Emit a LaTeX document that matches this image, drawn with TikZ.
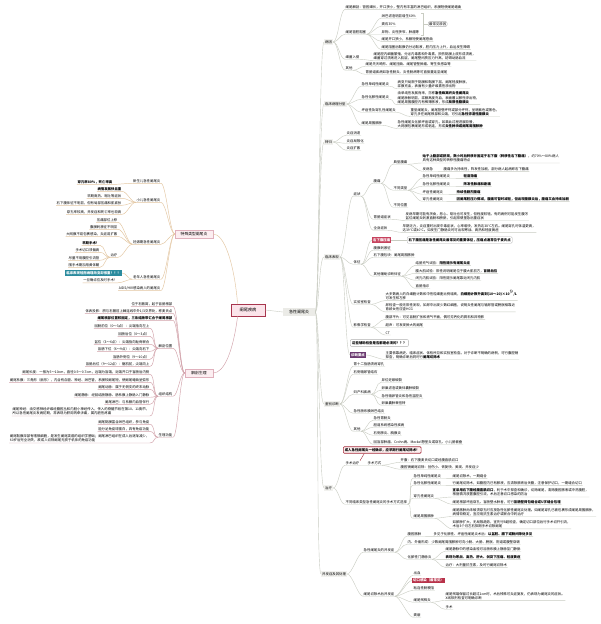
\documentclass[tikz,border=0pt]{standalone}
\usepackage{fontspec}
\setmainfont{Noto Sans CJK SC}
\definecolor{lineR}{HTML}{C9CCC2}
\definecolor{lineS}{HTML}{E3C6A0}
\definecolor{lineA}{HTML}{D2A2AA}
\definecolor{rootfill}{HTML}{FBE4EA}
\definecolor{rootdraw}{HTML}{A8364E}
\definecolor{acfill}{HTML}{EBEBE7}
\definecolor{subfill}{HTML}{FCEEF1}
\definecolor{subdraw}{HTML}{E0B0BC}
\definecolor{lonefill}{HTML}{F1F1EE}
\definecolor{purplebox}{HTML}{6B3A70}
\definecolor{pinkbox}{HTML}{C7435E}
\definecolor{redbox}{HTML}{B8324A}
\definecolor{tealbox}{HTML}{2B8B9E}
\definecolor{calloutdraw}{HTML}{B0B0B0}
\definecolor{redcallfill}{HTML}{FDF0F0}
\definecolor{redcalldraw}{HTML}{A52A3A}
\newcommand\Rk[2]{\draw[rl] (#1) .. controls +(5,0) and +(-5,0) .. (#2.south west) -- (#2.south east);}
\newcommand\Rb[2]{\draw[rl] (#1) .. controls +(5,0) and +(-5,0) .. (#2.west);}
\newcommand\Lk[3]{\draw[#1] (#2) .. controls +(-5,0) and +(5,0) .. (#3.south east) -- (#3.south west);}
\newcommand\Lb[3]{\draw[#1] (#2) .. controls +(-5,0) and +(5,0) .. (#3.east);}
\begin{document}
\begin{tikzpicture}[x=1pt,y=-1pt,
  font=\fontsize{3.4}{4.3}\selectfont,
  every node/.style={inner sep=0.5pt},
  R/.style={anchor=west,align=left},
  L/.style={anchor=east,align=left},
  rl/.style={draw=lineR,line width=0.4pt},
  sl/.style={draw=lineS,line width=0.45pt},
  al/.style={draw=lineA,line width=0.45pt},
  lone/.style={anchor=west,fill=lonefill,inner sep=1pt},
  colbox/.style={text=white,inner sep=1pt,font=\fontsize{3.4}{4.3}\selectfont\bfseries},
  callout/.style={anchor=west,draw=calloutdraw,fill=white,line width=0.4pt,inner sep=1.5pt,rounded corners=1pt,font=\fontsize{3.4}{4.3}\selectfont\bfseries},
]
\useasboundingbox (0,0) rectangle (600,624);
\fill[white] (0,0) rectangle (600,624);

% ---------- central ----------
\node[draw=rootdraw,fill=rootfill,line width=0.8pt,minimum width=34pt,minimum height=12pt,font=\fontsize{4.2}{5}\selectfont] (root) at (248,310) {阑尾疾病};
\node[fill=acfill,minimum width=32pt,minimum height=8pt,font=\fontsize{4}{5}\selectfont] (acute) at (299,312) {急性阑尾炎};
\node[fill=subfill,draw=subdraw,line width=0.4pt,minimum width=38pt,minimum height=8pt,font=\fontsize{3.8}{4.5}\selectfont] (spec) at (194,234) {特殊类型阑尾炎};
\node[fill=subfill,draw=subdraw,line width=0.4pt,minimum width=28pt,minimum height=8pt,font=\fontsize{3.8}{4.5}\selectfont] (anat) at (199,373) {解剖生理};
\draw[rl] (root.east) -- (acute.west);
\draw[sl] ([xshift=7pt]root.north west) .. controls (234,262) and (224,234) .. (spec.east);
\draw[al] ([xshift=7pt]root.south west) .. controls (233,352) and (224,373) .. (anat.east);

% ---------- right level 1 ----------
\node[lone] (gy) at (324,42) {病因};
\node[lone] (fx) at (324,104) {临床病理分型};
\node[lone] (zg) at (324,142) {转归};
\node[lone] (lc) at (324,257) {临床表现};
\node[lone] (jb) at (324,404) {鉴别诊断};
\node[lone] (zl) at (324,488) {治疗};
\node[lone] (bf) at (321,574) {并发症及其处理};
\foreach \n in {gy,fx,zg,lc,jb,zl,bf}{\draw[rl] (acute.east) .. controls +(4,0) and +(-5,0) .. (\n.west);}

% ---------- 病因 ----------
\node[R] (gy1) at (345,7) {阑尾解剖：管腔细长，开口狭小，壁内有丰富的淋巴组织，系膜短使阑尾蜷曲};
\node[R] (gy2) at (345,32) {阑尾管腔阻塞};
\node[R] (gy3) at (345,57) {细菌入侵};
\node[R] (gy4) at (345,68) {其他};
\foreach \n in {gy1,gy2,gy3,gy4}{\Rk{gy.east}{\n}}
\node[R] (gy21) at (381,16) {淋巴滤泡明显增生60\%};
\node[R] (gy22) at (381,24) {粪石35\%};
\node[R] (gy23) at (381,32) {异物、炎性狭窄、肿瘤等};
\node[R] (gy24) at (381,39) {阑尾开口狭小，系膜短使阑尾卷曲};
\node[R] (gy25) at (381,47) {阑尾阻塞后黏膜仍分泌黏液，腔内压力上升，血运发生障碍};
\foreach \n in {gy21,gy22,gy23,gy24,gy25}{\Rk{gy2.south east}{\n}}
\node[anchor=west,draw=calloutdraw,rounded corners=2pt,inner sep=1pt] (gylab) at (428,24) {最常见原因};
\draw[rl] (421,13) -- (423,13) -- (423,35) -- (421,35);
\draw[rl] (423,24) -- (gylab.west);
\node[R] (gy31) at (373,56) {阑尾腔内细菌繁殖，分泌内毒素和外毒素，损伤黏膜上皮形成溃疡，\\细菌穿过溃疡进入肌层，阑尾壁间质压力升高，妨碍动脉血流};
\Rk{gy3.south east}{gy31}
\node[R] (gy41) at (365,64) {阑尾先天畸形、阑尾扭曲、阑尾管壁肿瘤、寄生虫感染等};
\node[R] (gy42) at (365,72) {胃肠道疾病如急性肠炎、炎性肠病等可直接蔓延至阑尾};
\foreach \n in {gy41,gy42}{\Rk{gy4.south east}{\n}}

% ---------- 临床病理分型 ----------
\node[R] (fx1) at (361,84) {急性单纯性阑尾炎};
\node[R] (fx2) at (361,97) {急性化脓性阑尾炎};
\node[R] (fx3) at (361,110) {坏疽性及穿孔性阑尾炎};
\node[R] (fx4) at (361,123) {阑尾周围脓肿};
\foreach \n in {fx1,fx2,fx3,fx4}{\Rk{fx.east}{\n}}
\node[R] (fx1c) at (397,84) {病变只局限于黏膜和黏膜下层，阑尾轻度肿胀，\\浆膜充血，表面有少量纤维素性渗出物};
\node[R] (fx2c) at (397,98) {由单纯性发展而来，亦称\textbf{急性蜂窝织炎性阑尾炎}\\阑尾肿胀明显，浆膜高度充血，表面覆以脓性渗出物，\\阑尾周围腹腔内有稀薄脓液，形成\textbf{局限性腹膜炎}};
\node[R] (fx3c) at (410,112) {重型阑尾炎，阑尾管壁坏死或部分坏死，呈暗紫色或黑色，\\穿孔多在阑尾根部和尖端，可引起\textbf{急性弥漫性腹膜炎}};
\node[R] (fx4c) at (397,124) {急性阑尾炎化脓坏疽或穿孔，如果此过程进展较慢，\\大网膜包裹阑尾形成粘连，形成\textbf{炎性肿块或阑尾周围脓肿}};
\Rk{fx1.south east}{fx1c}
\Rk{fx2.south east}{fx2c}
\Rk{fx3.south east}{fx3c}
\Rk{fx4.south east}{fx4c}

% ---------- 转归 ----------
\node[R] (zg1) at (346,133) {炎症消退};
\node[R] (zg2) at (346,141) {炎症局限化};
\node[R] (zg3) at (346,148) {炎症扩散};
\foreach \n in {zg1,zg2,zg3}{\Rk{zg.east}{\n}}

% ---------- 临床表现 ----------
\node[R] (lc1) at (353,194) {症状};
\node[R] (lc2) at (353,262) {体征};
\node[R] (lc3) at (353,302) {实验室检查};
\node[R] (lc4) at (353,325) {影像学检查};
\node[anchor=west,fill=purplebox,colbox] (lc5) at (350,355) {诊断要点};
\foreach \n in {lc1,lc2,lc3,lc4}{\Rk{lc.east}{\n}}
\Rb{lc.east}{lc5}

\node[R] (zz1) at (373,181) {腹痛};
\node[R] (zz2) at (373,217) {胃肠道症状};
\node[R] (zz3) at (373,228) {全身症状};
\foreach \n in {zz1,zz2,zz3}{\Rk{lc1.south east}{\n}}
\node[R] (ft1) at (393,162) {典型腹痛};
\node[R] (ft2) at (393,188) {不同类型};
\node[R] (ft3) at (393,205) {不同位置};
\foreach \n in {ft1,ft2,ft3}{\Rk{zz1.south east}{\n}}
\node[R] (ft11) at (422,158.5) {\textbf{始于上腹部或脐周，数小时后转移并固定于右下腹（转移性右下腹痛）}，约70\%～80\%病人\\具有这种典型的转移性腹痛特点};
\node[R] (ft12) at (422,169) {发病急};
\node[R] (ft121) at (443,169) {腹痛多为持续性，阵发性加剧，部分病人起病即右下腹痛};
\Rk{ft1.south east}{ft11}
\Rk{ft1.south east}{ft12}
\Rk{ft12.south east}{ft121}
\node[R] (ft21) at (422,176) {急性单纯性阑尾炎};
\node[R] (ft22) at (422,184) {急性化脓性阑尾炎};
\node[R] (ft23) at (422,192) {坏疽性阑尾炎};
\node[R] (ft24) at (422,199) {穿孔性阑尾炎};
\foreach \n in {ft21,ft22,ft23,ft24}{\Rk{ft2.south east}{\n}}
\node[R,font=\fontsize{3.4}{4.3}\selectfont\bfseries] (ft21c) at (463,176) {轻度隐痛};
\node[R,font=\fontsize{3.4}{4.3}\selectfont\bfseries] (ft22c) at (463,184) {阵发性胀痛和剧痛};
\node[R,font=\fontsize{3.4}{4.3}\selectfont\bfseries] (ft23c) at (456,192) {持续性剧烈腹痛};
\node[R,font=\fontsize{3.4}{4.3}\selectfont\bfseries] (ft24c) at (456,199) {因阑尾腔压力骤减，腹痛可暂时减轻，但出现腹膜炎后，腹痛又会持续加剧};
\Rk{ft21.south east}{ft21c}
\Rk{ft22.south east}{ft22c}
\Rk{ft23.south east}{ft23c}
\Rk{ft24.south east}{ft24c}
\node[R] (zz2c) at (405,216) {发病早期可能有厌食，恶心、呕吐也可发生，但程度较轻。有的病例可能发生腹泻\\盆位阑尾炎刺激直肠和膀胱，引起排便里急后重症状};
\node[R] (zz3c) at (402,228) {早期乏力，炎症重时出现中毒症状，心率增快，发热达38℃左右。阑尾穿孔时体温更高，\\达39℃或40℃。如发生门静脉炎时可出现寒战、高热和轻度黄疸};
\Rk{zz2.south east}{zz2c}
\Rk{zz3.south east}{zz3c}

\node[anchor=west,fill=pinkbox,colbox] (tz1) at (372,240) {右下腹压痛};
\node[callout] (tzc) at (407,240) {右下腹压痛是急性阑尾炎最常见的重要体征，压痛点通常位于麦氏点};
\draw[rl] (tz1.east) -- (tzc.west);
\node[R] (tz2) at (373,248) {腹膜刺激征};
\node[R] (tz3) at (373,255) {右下腹包块：阑尾周围脓肿};
\node[R] (tz4) at (373,274) {其他辅助诊断体征};
\Rb{lc2.south east}{tz1}
\foreach \n in {tz2,tz3,tz4}{\Rk{lc2.south east}{\n}}
\node[R] (tz41) at (415,263) {结肠充气试验：\textbf{阳性提示有阑尾炎症}};
\node[R] (tz42) at (415,271) {腰大肌试验：阳性说明阑尾位于腰大肌前方，\textbf{盲肠后位}};
\node[R] (tz43) at (415,278) {闭孔内肌试验：阳性提示阑尾靠近闭孔内肌};
\node[R] (tz44) at (415,286) {直肠指诊};
\foreach \n in {tz41,tz42,tz43,tz44}{\Rk{tz4.south east}{\n}}

\node[R] (sy1) at (385,295) {大多数病人的白细胞计数和中性粒细胞比例增高，\textbf{白细胞计数升高到(10～20)×10$^9$/L}\\可发生核左移};
\node[R] (sy2) at (385,307.5) {尿检查一般无阳性发现，如尿中出现少数红细胞，说明炎性阑尾与输尿管或膀胱相靠近\\育龄女性应查HCG};
\Rk{lc3.south east}{sy1}
\Rk{lc3.south east}{sy2}
\node[R] (yx1) at (385,317) {腹部平片：可见盲肠扩张和液气平面，偶可见钙化的粪石和异物影};
\node[R] (yx2) at (385,325) {超声：可发现肿大的阑尾};
\node[R] (yx3) at (385,333) {CT};
\foreach \n in {yx1,yx2,yx3}{\Rk{lc4.south east}{\n}}
\node[callout,rounded corners=2pt,inner sep=2pt] (yxc) at (350,343) {这些辅助检查是否都是必须的？？？};
\node[R] (lc5c) at (385,355) {主要依靠病史、临床症状、体检所见和实验室检查。对于诊断不明确的病例，可行腹腔镜\\探查，明确诊断后同时行\textbf{阑尾切除术}};
\Rk{lc5.east}{lc5c}

% ---------- 鉴别诊断 ----------
\node[R] (jb1) at (353,364) {胃十二指肠溃疡穿孔};
\node[R] (jb2) at (353,372) {右侧输尿管结石};
\node[R] (jb3) at (353,392) {妇产科疾病};
\node[R] (jb4) at (353,411) {急性肠系膜淋巴结炎};
\node[R] (jb5) at (353,429) {其他};
\foreach \n in {jb1,jb2,jb3,jb4,jb5}{\Rk{jb.east}{\n}}
\node[R] (jb31) at (381,380) {异位妊娠破裂};
\node[R] (jb32) at (381,388) {卵巢滤泡或黄体囊肿破裂};
\node[R] (jb33) at (381,396) {急性输卵管炎和急性盆腔炎};
\node[R] (jb34) at (381,403) {卵巢囊肿蒂扭转};
\foreach \n in {jb31,jb32,jb33,jb34}{\Rk{jb3.south east}{\n}}
\node[R] (jb51) at (373,418) {急性胃肠炎};
\node[R] (jb52) at (373,425) {胆道系统感染性疾病};
\node[R] (jb53) at (373,433) {右侧肺炎、胸膜炎};
\node[R] (jb54) at (373,442) {回盲部肿瘤、Crohn病、Meckel憩室炎或穿孔、小儿肠套叠};
\foreach \n in {jb51,jb52,jb53,jb54}{\Rk{jb5.south east}{\n}}

% ---------- 治疗 ----------
\node[anchor=west,draw=redcalldraw,fill=redcallfill,line width=0.6pt,inner sep=1.5pt,rounded corners=1pt,font=\fontsize{3.4}{4.3}\selectfont\bfseries] (zlc) at (343,450) {成人急性阑尾炎一经确诊，应早期行阑尾切除术！};
\node[R] (zl1) at (345,463) {手术治疗};
\node[R] (zl2) at (345,502) {不同临床类型急性阑尾炎的手术方式选择};
\foreach \n in {zl1,zl2}{\Rk{zl.east}{\n}}
\draw[draw=redcalldraw,line width=0.4pt] ([xshift=-18pt]zlc.south) -- (zl1.north east);
\node[R] (zl11) at (367,463) {手术方式};
\Rk{zl1.south east}{zl11}
\node[R] (zl111) at (400,460) {开腹：右下腹麦氏切口或经腹直肌切口};
\node[R] (zl112) at (400,467) {腹腔镜阑尾切除：创伤小、恢复快、美观、并发症少};
\foreach \n in {zl111,zl112}{\Rk{zl11.south east}{\n}}
\node[R] (zl21) at (413,476) {急性单纯性阑尾炎};
\node[R] (zl22) at (413,483) {急性化脓性阑尾炎};
\node[R] (zl23) at (413,496) {穿孔性阑尾炎};
\node[R] (zl24) at (413,516) {阑尾周围脓肿};
\foreach \n in {zl21,zl22,zl23,zl24}{\Rk{zl2.south east}{\n}}
\node[R] (zl21c) at (452,476) {阑尾切除术，一期缝合};
\node[R] (zl22c) at (452,483) {行阑尾切除术，如腹腔内已有脓液，应清除脓液后关腹，注意保护切口，一期缝合切口};
\Rk{zl21.south east}{zl21c}
\Rk{zl22.south east}{zl22c}
\node[R] (zl231) at (452,492.5) {\textbf{宜采用右下腹经腹直肌切口}，利于术中探查和确诊，切除阑尾，清除腹腔脓液或冲洗腹腔，\\根据情况放置腹腔引流，术后注意切口感染的防治};
\node[R] (zl232) at (452,502) {阑尾根部坏疽穿孔、盲肠壁水肿者，可行\textbf{盲肠壁荷包缝合或U字缝合包埋}};
\Rk{zl23.south east}{zl231}
\Rk{zl23.south east}{zl232}
\node[R] (zl241) at (452,512) {阑尾脓肿尚未破溃穿孔时应按急性化脓性阑尾炎处理。如阑尾穿孔已被包裹形成阑尾周围脓肿，\\病情较稳定，宜应用抗生素治疗或联合中药治疗};
\node[R] (zl242) at (452,524.5) {如脓肿扩大，无局限趋势，宜先行B超检查，确定切口部位后行手术切开引流，\\术后3个月左右择期手术切除阑尾};
\Rk{zl24.south east}{zl241}
\Rk{zl24.south east}{zl242}

% ---------- 并发症 ----------
\node[R] (bf1) at (363,550) {急性阑尾炎的并发症};
\node[R] (bf2) at (363,594) {阑尾切除术后并发症};
\foreach \n in {bf1,bf2}{\Rk{bf.east}{\n}}
\node[R] (bf11) at (407,534) {腹腔脓肿};
\node[R] (bf12) at (407,542) {内、外瘘形成：少数阑尾周围脓肿可向小肠、大肠、膀胱、阴道或腹壁穿破};
\node[R] (bf13) at (407,557) {化脓性门静脉炎};
\foreach \n in {bf11,bf12,bf13}{\Rk{bf1.south east}{\n}}
\node[R] (bf111) at (433,534) {多见于化脓性、坏疽性阑尾炎术后：\textbf{以盆腔、膈下或肠间隙处多见}};
\Rk{bf11.south east}{bf111}
\node[R] (bf131) at (445,549) {阑尾静脉中的感染血栓可沿肠系膜上静脉至门静脉};
\node[R,font=\fontsize{3.4}{4.3}\selectfont\bfseries] (bf132) at (445,557) {表现为寒战、高热、肝大、剑突下压痛、轻度黄疸};
\node[R] (bf133) at (445,565) {治疗：大剂量抗生素，及时行阑尾切除术};
\foreach \n in {bf131,bf132,bf133}{\Rk{bf13.south east}{\n}}
\node[R] (bf21) at (413,573) {出血};
\node[anchor=west,fill=redbox,colbox] (bf22) at (412,580.5) {切口感染（最常见）};
\node[R] (bf23) at (413,588) {粘连性肠梗阻};
\node[R] (bf24) at (413,600) {阑尾残株炎};
\node[R] (bf25) at (413,615) {粪瘘};
\foreach \n in {bf21,bf23,bf24,bf25}{\Rk{bf2.south east}{\n}}
\Rb{bf2.south east}{bf22}
\node[R] (bf241) at (445,596) {阑尾残端保留过长超过1cm时，术后残株可炎症复发，仍表现为阑尾炎的症状。\\X线钡剂检查可明确诊断};
\node[R] (bf242) at (445,607) {手术};
\Rk{bf24.south east}{bf241}
\Rk{bf24.south east}{bf242}

% ---------- 特殊类型阑尾炎 (left) ----------
\node[L] (s1) at (161,181) {新生儿急性阑尾炎};
\node[L] (s2) at (161,200) {小儿急性阑尾炎};
\node[L] (s3) at (161,242) {妊娠期急性阑尾炎};
\node[L] (s4) at (161,277) {老年人急性阑尾炎};
\node[L] (s5) at (161,288) {AIDS/HIV感染病人的阑尾炎};
\foreach \n in {s1,s2,s3,s4,s5}{\Lk{sl}{spec.west}{\n}}
\node[L,font=\fontsize{3.4}{4.3}\selectfont\bfseries] (s11) at (113,182) {穿孔率80\%，死亡率高};
\Lk{sl}{s1.south west}{s11}
\node[L,font=\fontsize{3.4}{4.3}\selectfont\bfseries] (s21) at (122,189) {病情发展快且重};
\node[L] (s22) at (122,196) {早期高热、呕吐等症状};
\node[L] (s23) at (122,203) {右下腹体征不明显，但有局部压痛和肌紧张};
\node[L] (s24) at (122,212) {穿孔率较高，并发症和死亡率也较高};
\foreach \n in {s21,s22,s23,s24}{\Lk{sl}{s2.south west}{\n}}
\node[L] (s31) at (118,220) {压痛部位上移};
\node[L] (s32) at (118,227) {腹膜刺激征不明显};
\node[L] (s33) at (118,234) {大网膜不易包裹感染，炎症易扩散};
\node[L] (s34) at (118,255) {治疗};
\foreach \n in {s31,s32,s33,s34}{\Lk{sl}{s3.south west}{\n}}
\node[L,font=\fontsize{3.4}{4.3}\selectfont\bfseries] (s341) at (100,243) {早期手术！};
\node[L] (s342) at (100,250) {手术切口须偏高};
\node[L] (s343) at (100,258) {尽量不用腹腔引流管};
\node[L] (s344) at (100,265) {围手术期加用黄体酮};
\foreach \n in {s341,s342,s343,s344}{\Lk{sl}{s34.south west}{\n}}
\node[anchor=east,fill=tealbox,colbox] (s41) at (122,273) {临床表现轻而病理改变却很重！！！};
\node[L] (s42) at (118,280.5) {一旦确诊应及时手术！};
\Lb{sl}{s4.south west}{s41}
\Lk{sl}{s4.south west}{s42}

% ---------- 解剖生理 (left) ----------
\node[L] (a1) at (173,304) {位于右髂窝，起于盲肠根部};
\node[L] (a2) at (173,311) {体表投影：脐与右髂前上棘连线中外1/3交界处，称麦氏点};
\node[L,font=\fontsize{3.4}{4.3}\selectfont\bfseries] (a3) at (173,318) {阑尾根部位置较固定，三条结肠带汇合于阑尾根部};
\node[L] (a4) at (173,346) {解剖位置};
\node[L] (a5) at (173,394) {组织结构};
\node[L] (a6) at (173,435) {生理功能};
\foreach \n in {a1,a2,a3,a4,a5,a6}{\Lk{al}{anat.west}{\n}}
\node[L] (a41) at (150,326) {回肠前位（0～3点）：尖端指向左上};
\node[L] (a42) at (150,334) {回肠后位（0～3点）};
\node[L] (a43) at (150,342) {盆位（3～6点）：尖端指向耻骨联合};
\node[L] (a44) at (150,349) {盲肠下位（6～9点）：尖端向右下};
\node[L] (a45) at (150,357) {盲肠外侧位（9～10点）};
\node[L] (a46) at (150,364) {盲肠后位（9～12点）：髂肌前，尖端向上};
\foreach \n in {a41,a42,a43,a44,a45,a46}{\Lk{al}{a4.south west}{\n}}
\node[L] (a51) at (150,372) {阑尾长度：一般为5～10cm，直径0.5～0.7cm，远端为盲端，近端开口于盲肠后内侧};
\node[L] (a52) at (150,380) {阑尾系膜：三角形（扇形），内含有血管、神经、淋巴管，系膜较阑尾短，使阑尾蜷曲呈弧形};
\node[L] (a53) at (150,387) {阑尾动脉：属于无侧支的终末动脉};
\node[L] (a54) at (150,395) {阑尾静脉：经回结肠静脉、肠系膜上静脉入门静脉};
\node[L] (a55) at (150,402) {阑尾淋巴：与系膜内血管伴行};
\node[L] (a56) at (150,411.5) {阑尾神经：由交感神经纤维经腹腔丛和内脏小神经传入，传入的脊髓节段在第10、11胸节，\\所以急性阑尾炎发病初期，常表现为脐周的牵涉痛，属内脏性疼痛};
\foreach \n in {a51,a52,a53,a54,a55,a56}{\Lk{al}{a5.south west}{\n}}
\node[L] (a61) at (150,422) {阑尾黏膜富含淋巴组织，参与免疫};
\node[L] (a62) at (150,429) {能分泌免疫球蛋白，具有免疫功能};
\node[L] (a63) at (150,438.5) {阑尾黏膜深部有嗜银细胞，是发生阑尾类癌的组织学基础；阑尾淋巴组织在成人后逐渐减少，\\60岁后完全消失，故成人切除阑尾无损于机体的免疫功能};
\foreach \n in {a61,a62,a63}{\Lk{al}{a6.south west}{\n}}
\end{tikzpicture}
\end{document}
